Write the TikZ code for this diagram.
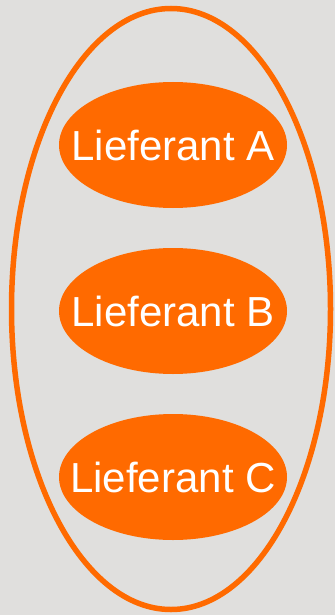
\documentclass[tikz,border=0pt]{standalone}
\usepackage{fontspec}
\setmainfont{Liberation Sans}
\usetikzlibrary{shapes.geometric}
\definecolor{bg}{HTML}{E0DFDD}
\definecolor{org}{HTML}{FF6A00}
\tikzset{
  supplier/.style={ellipse, fill=org, minimum width=228pt, minimum height=126pt, inner sep=0pt},
  label/.style={text=white, inner sep=0pt, font=\fontsize{42}{50}\selectfont},
  outer/.style={ellipse, draw=org, line width=5.5pt, minimum width=319pt, minimum height=601pt, inner sep=0pt}
}
\begin{document}
\begin{tikzpicture}[x=1pt,y=-1pt]
\fill[bg] (0,0) rectangle (335,615);
\useasboundingbox (0,0) rectangle (335,615);
\node[outer] (group) at (171,309) {};
\node[supplier] (a) at (173,145) {};
\node[supplier] (b) at (173,311) {};
\node[supplier] (c) at (173,477) {};
\node[label] (ta) at (a.center) {Lieferant A};
\node[label] (tb) at (b.center) {Lieferant B};
\node[label] (tc) at (c.center) {Lieferant C};
\end{tikzpicture}
\end{document}
